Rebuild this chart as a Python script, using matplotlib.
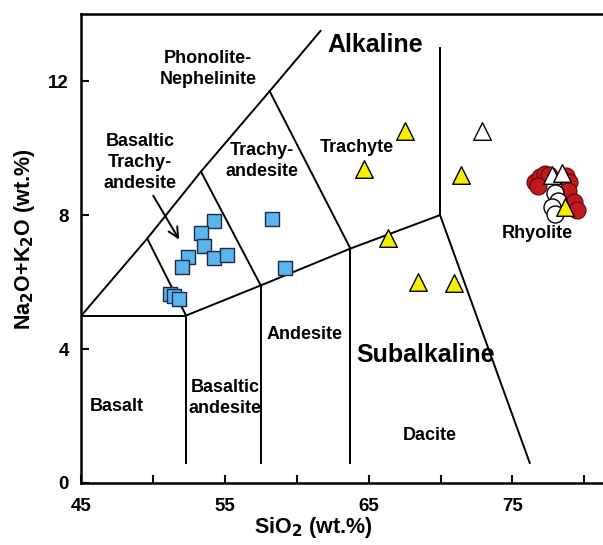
import matplotlib.pyplot as plt
import numpy as np

plt.rcParams['font.family'] = ['Liberation Sans', 'DejaVu Sans']
plt.rcParams['font.weight'] = 'bold'

# TAS field boundaries (SiO2, Na2O+K2O) as drawn in the figure
boundaries = [
    [(45, 5), (49.58, 7.3), (53.32, 9.3), (58.1, 11.7), (61.64, 13.5)],
    [(45, 5), (52.28, 5)],
    [(49.58, 7.3), (52.28, 5), (57.48, 5.9), (63.72, 7), (69.96, 8)],
    [(53.32, 9.3), (57.48, 5.9)],
    [(58.1, 11.7), (63.72, 7)],
    [(69.96, 8), (69.96, 13)],
    [(69.96, 8), (76.2, 0.6)],
    [(52.28, 5), (52.28, 0.6)],
    [(57.48, 5.9), (57.48, 0.6)],
    [(63.72, 7), (63.72, 0.6)],
]

# samples
sq_sio2 = [54.26, 53.32, 53.53, 52.44, 51.97, 54.26, 55.14, 58.26, 59.14, 51.14, 51.45, 51.76]
sq_alk = [7.82, 7.47, 7.07, 6.75, 6.46, 6.73, 6.80, 7.89, 6.43, 5.65, 5.58, 5.50]

ytri_sio2 = [67.52, 64.68, 71.43, 66.35, 68.45, 70.94, 78.67]
ytri_alk = [10.52, 9.37, 9.19, 7.33, 6.01, 5.97, 8.24]

wtri_sio2 = [72.87, 77.76, 78.46]
wtri_alk = [10.52, 9.20, 9.26]

red_sio2 = [76.58, 76.93, 77.28, 77.56, 78.74, 78.95, 78.88, 79.30, 79.51, 76.79]
red_alk = [8.99, 9.14, 9.23, 9.20, 9.17, 8.99, 8.72, 8.39, 8.15, 8.87]

wc_sio2 = [77.97, 78.18, 77.76, 77.97]
wc_alk = [8.66, 8.42, 8.24, 8.03]

fields = [
    ("Phonolite-\nNephelinite", 53.8, 12.36, 13),
    ("Alkaline", 65.44, 13.07, 18),
    ("Basaltic\nTrachy-\nandesite", 49.07, 9.58, 13),
    ("Trachy-\nandesite", 57.57, 9.61, 13),
    ("Trachyte", 64.19, 10.03, 13),
    ("Rhyolite", 76.72, 7.46, 13),
    ("Andesite", 60.56, 4.42, 13),
    ("Subalkaline", 68.92, 3.82, 18),
    ("Basalt", 47.47, 2.27, 13),
    ("Basaltic\nandesite", 54.99, 2.54, 13),
    ("Dacite", 69.27, 1.43, 13),
]

fig = plt.figure(figsize=(6.03, 5.45), dpi=100)
ax = fig.add_axes([0.135, 0.1138, 0.865, 0.8602])

for seg in boundaries:
    xs, ys = zip(*seg)
    ax.plot(xs, ys, color='black', lw=1.4, zorder=2)

for txt, x, y, fs in fields:
    ax.text(x, y, txt, ha='center', va='center', fontsize=fs,
            fontweight='bold', linespacing=1.3, zorder=3)

ax.annotate('', xy=(51.9, 7.2), xytext=(49.9, 8.65),
            arrowprops=dict(arrowstyle='->', color='black', lw=1.4,
                            mutation_scale=18), zorder=3)

ax.scatter(sq_sio2, sq_alk, marker='s', s=105, color='#5cb4ee',
           edgecolor='#1c2a4a', linewidth=1.0, zorder=5)
ax.scatter(red_sio2, red_alk, marker='o', s=150, color='#c01a1e',
           edgecolor='#5a0a0a', linewidth=0.8, zorder=5)
ax.scatter(wc_sio2, wc_alk, marker='o', s=150, color='white',
           edgecolor='black', linewidth=1.0, zorder=5)
ax.scatter(ytri_sio2, ytri_alk, marker='^', s=160, color='#f7ef00',
           edgecolor='black', linewidth=1.0, zorder=6)
ax.scatter(wtri_sio2, wtri_alk, marker='^', s=160, color='white',
           edgecolor='black', linewidth=1.0, zorder=6)

ax.set_xlim(45, 81.3)
ax.set_ylim(0, 14)
ax.set_xticks(np.arange(45, 81, 5))
ax.set_xticklabels(['45', '', '55', '', '65', '', '75', ''])
ax.set_yticks([0, 4, 8, 12])
ax.tick_params(direction='in', length=6, width=1.5, labelsize=13.5)
ax.tick_params(axis='x', pad=11)
ax.tick_params(axis='y', pad=9)
for lab in ax.get_xticklabels() + ax.get_yticklabels():
    lab.set_fontweight('bold')
for side in ['left', 'bottom', 'top']:
    ax.spines[side].set_linewidth(1.8)
ax.spines['right'].set_visible(False)

ax.set_xlabel('SiO$_\\mathbf{2}$ (wt.%)', fontsize=15.5, fontweight='bold')
ax.set_ylabel('Na$_\\mathbf{2}$O+K$_\\mathbf{2}$O (wt.%)', fontsize=15.5,
              fontweight='bold')
ax.xaxis.set_label_coords(0.444, -0.068)
ax.yaxis.set_label_coords(-0.085, 0.52)

fig.savefig('out.png', dpi=100)
